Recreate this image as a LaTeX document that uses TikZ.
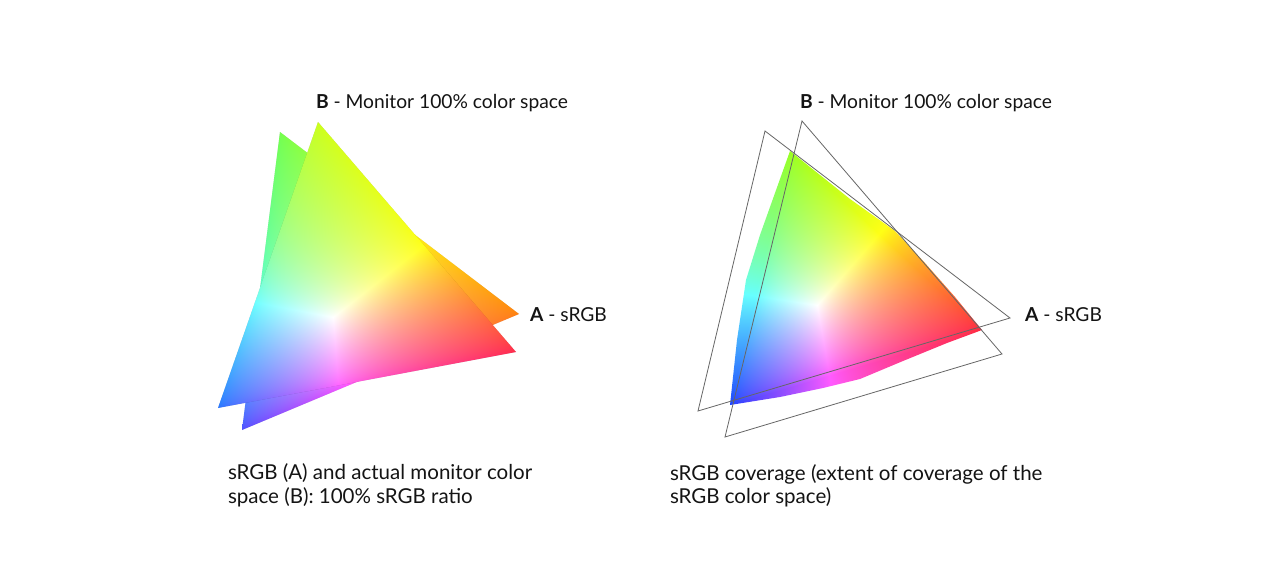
\documentclass[tikz,border=0pt]{standalone}
\usepackage{fontspec}
\setmainfont{Lato}
\newcommand\setverts[8]{%
 \pgfmathsetmacro\Xa{#1/100}\pgfmathsetmacro\Ya{(576-#2)/100}%
 \pgfmathsetmacro\Xb{#3/100}\pgfmathsetmacro\Yb{(576-#4)/100}%
 \pgfmathsetmacro\Xc{#5/100}\pgfmathsetmacro\Yc{(576-#6)/100}%
 \pgfmathsetmacro\Xw{#7/100}\pgfmathsetmacro\Yw{(576-#8)/100}}
\newcommand\settints[6]{\def\kRg{#1}\def\kBg{#2}\def\kGr{#3}\def\kBr{#4}\def\kRb{#5}\def\kGb{#6}}
\newcommand\setmids[3]{\def\kC{#1}\def\kM{#2}\def\kY{#3}}
\def\gam{0.72}
\newcommand\mkshade[1]{%
 \pgfmathsetmacro\Dt{(\Yb-\Yc)*(\Xa-\Xc)+(\Xc-\Xb)*(\Ya-\Yc)}%
 \pgfmathsetmacro\aG{(\Yb-\Yc)/(\Dt)}%
 \pgfmathsetmacro\bG{(\Xc-\Xb)/(\Dt)}%
 \pgfmathsetmacro\cG{0-((\aG)*(\Xc)+(\bG)*(\Yc))}%
 \pgfmathsetmacro\aR{(\Yc-\Ya)/(\Dt)}%
 \pgfmathsetmacro\bR{(\Xa-\Xc)/(\Dt)}%
 \pgfmathsetmacro\cR{0-((\aR)*(\Xc)+(\bR)*(\Yc))}%
 \pgfmathsetmacro\aB{0-(\aG)-(\aR)}%
 \pgfmathsetmacro\bB{0-(\bG)-(\bR)}%
 \pgfmathsetmacro\cB{1-(\cG)-(\cR)}%
 \pgfmathsetmacro\sG{1/((\aG)*(\Xw)+(\bG)*(\Yw)+(\cG))}%
 \pgfmathsetmacro\sR{1/((\aR)*(\Xw)+(\bR)*(\Yw)+(\cR))}%
 \pgfmathsetmacro\sB{1/((\aB)*(\Xw)+(\bB)*(\Yw)+(\cB))}%
 \pgfmathsetmacro\aG{(\aG)*(\sG)}\pgfmathsetmacro\bG{(\bG)*(\sG)}\pgfmathsetmacro\cG{(\cG)*(\sG)}%
 \pgfmathsetmacro\aR{(\aR)*(\sR)}\pgfmathsetmacro\bR{(\bR)*(\sR)}\pgfmathsetmacro\cR{(\cR)*(\sR)}%
 \pgfmathsetmacro\aB{(\aB)*(\sB)}\pgfmathsetmacro\bB{(\bB)*(\sB)}\pgfmathsetmacro\cB{(\cB)*(\sB)}%
 \edef\shtmp{\noexpand\pgfdeclarefunctionalshading{#1}{\noexpand\pgfpointorigin}{\noexpand\pgfpoint{1280bp}{576bp}}{}{
 0.01 mul exch 0.01 mul exch
 1 index \aG\space mul 1 index \bG\space mul add \cG\space add
 2 index \aR\space mul 2 index \bR\space mul add \cR\space add
 3 index \aB\space mul 3 index \bB\space mul add \cB\space add
 5 -2 roll pop pop
 dup 0.001 lt {pop 0.001} if 3 1 roll
 dup 0.001 lt {pop 0.001} if 3 1 roll
 dup 0.001 lt {pop 0.001} if 3 1 roll
 3 -1 roll exch
 3 copy 2 copy lt {exch} if pop 2 copy lt {exch} if pop
 4 1 roll
 3 index div 3 1 roll
 3 index div 3 1 roll
 3 index div 3 1 roll
 4 -1 roll pop
 \gam\space exp 3 1 roll
 \gam\space exp 3 1 roll
 \gam\space exp 3 1 roll
 1 index 1 2 index sub mul \kRg\space mul
 1 index 1 4 index sub mul \kRb\space mul add
 2 index 2 index mul \kC\space mul add
 1 4 index sub mul 3 index add
 3 index 1 3 index sub mul \kGr\space mul
 2 index 1 6 index sub mul \kGb\space mul add
 4 index 3 index mul \kM\space mul add
 1 4 index sub mul 3 index add
 4 index 1 5 index sub mul \kBr\space mul
 4 index 1 7 index sub mul \kBg\space mul add
 5 index 5 index mul \kY\space mul add
 1 4 index sub mul 3 index add
 6 -3 roll pop pop pop
 dup 1 gt {pop 1} if 3 1 roll
 dup 1 gt {pop 1} if 3 1 roll
 dup 1 gt {pop 1} if 3 1 roll
 }}\shtmp}
% left, back triangle A (sRGB)
\setverts{280}{132}{519}{314}{242}{430}{330}{320}
\settints{0.45}{0.3}{0.5}{0.05}{0.3}{0.3}
\setmids{0.35}{0.3}{0.08}
\mkshade{shA}
% left, front triangle B (monitor)
\setverts{318}{122}{516}{352}{218}{408}{333}{317}
\settints{0.8}{0.1}{0.15}{0.3}{0.15}{0.45}
\setmids{0.42}{0.38}{0.08}
\mkshade{shB}
% right, coverage region
\setverts{790}{151}{982}{330}{730}{405}{817}{305}
\settints{0.6}{0.12}{0.15}{0.25}{0.1}{0.25}
\setmids{0.4}{0.35}{0.08}
\mkshade{shC}
\begin{document}
\begin{tikzpicture}[x=1bp,y=-1bp,
  lbl/.style={inner sep=0pt, outer sep=0pt, anchor=base west, text=black!92, font=\fontsize{19.3}{23}\selectfont},
  captext/.style={lbl, font=\fontsize{20.6}{24}\selectfont},
  outline/.style={draw=black!60, line width=0.8bp, line join=miter},
  shadowfill/.style={fill=black, fill opacity=0.05},
  shadebox/.style={inner sep=0pt, outer sep=0pt, anchor=south west}]
\fill[white] (0,0) rectangle (1280,576);
\useasboundingbox (0,0) rectangle (1280,576);
% ---------- left picture ----------
\coordinate (LAg) at (280,132); \coordinate (LAr) at (519,314); \coordinate (LAb) at (242,430);
\coordinate (LBg) at (318,122); \coordinate (LBr) at (516,352); \coordinate (LBb) at (218,408);
\foreach \d in {1,2,3}{
  \fill[shadowfill, shift={(-0.6*\d,1.2*\d)}] (LAg) -- (LAr) -- (LAb) -- cycle;}
\begin{scope}
  \clip (LAg) -- (LAr) -- (LAb) -- cycle;
  \node[shadebox] (sa) at (0,576) {\pgfuseshading{shA}};
\end{scope}
\foreach \d in {1,2,3}{
  \fill[shadowfill, fill opacity=0.07, shift={(-0.7*\d,1.0*\d)}] (LBg) -- (LBr) -- (LBb) -- cycle;}
\begin{scope}
  \clip (LBg) -- (LBr) -- (LBb) -- cycle;
  \node[shadebox] (sb) at (0,576) {\pgfuseshading{shB}};
\end{scope}
\node[lbl] (tLB) at (316,109) {\textbf{B} - Monitor 100\% color space};
\node[lbl] (tLA) at (530,322) {\textbf{A} - sRGB};
\node[captext] (cL1) at (228,479) {sRGB (A) and actual monitor color};
\node[captext] (cL2) at (228,503) {space (B): 100\% sRGB ratio};
% ---------- right picture ----------
\coordinate (RAg) at (765,131); \coordinate (RAr) at (1010,318); \coordinate (RAb) at (698,411);
\coordinate (RBg) at (802,121); \coordinate (RBr) at (1002,354); \coordinate (RBb) at (725,437);
\begin{scope}
  \clip (790,151) -- (850,199) -- (895,231) -- (925,263) -- (955,297) -- (982,330)
     -- (947,343) -- (903,361) -- (860,379) -- (823,388) -- (780,397) -- (730,405)
     -- (737,340) -- (746,280) -- (760,235) -- cycle;
  \node[shadebox] (sc) at (0,576) {\pgfuseshading{shC}};
\end{scope}
\draw[outline] (RAg) -- (RAr) -- (RAb) -- cycle;
\draw[outline] (RBg) -- (RBr) -- (RBb) -- cycle;
\node[lbl] (tRB) at (800,109) {\textbf{B} - Monitor 100\% color space};
\node[lbl] (tRA) at (1025,322) {\textbf{A} - sRGB};
\node[captext] (cR1) at (670,480) {sRGB coverage (extent of coverage of the};
\node[captext] (cR2) at (670,503) {sRGB color space)};
\end{tikzpicture}
\end{document}
